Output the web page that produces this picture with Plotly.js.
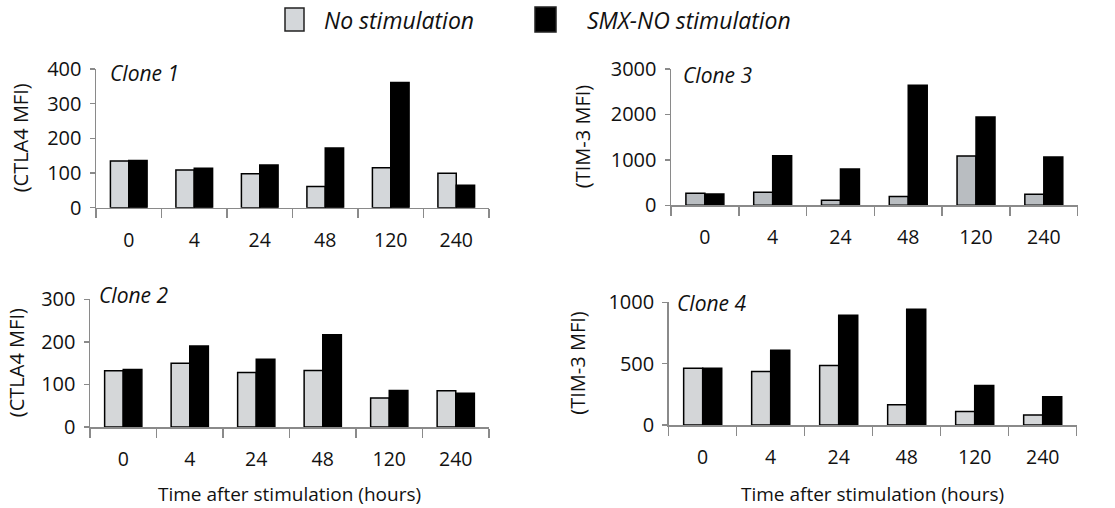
<!DOCTYPE html>
<html><head><meta charset="utf-8">
<script src="https://cdn.plot.ly/plotly-3.0.1.min.js"></script>
<style>html,body{margin:0;padding:0;background:#fff}</style>
</head><body><div id="chart" style="width:1115px;height:508px"></div>
<script>
var times = ["0","4","24","48","120","240"];
var seriesNames = ["No stimulation","SMX-NO stimulation"];
var clone1None = [135,109,98,61,115,99];
var clone1SMX  = [136,114,123,172,361,65];
var clone3None = [264,286,110,191,1086,242];
var clone3SMX  = [249,1093,800,2641,1944,1064];
var clone2None = [132,150,128,133,68,85];
var clone2SMX  = [135,190,159,217,86,79];
var clone4None = [462,437,484,166,111,82];
var clone4SMX  = [462,609,894,943,321,231];
var panelTitles = ["Clone 1","Clone 3","Clone 2","Clone 4"];
var yTitles = ["(CTLA4 MFI)","(TIM-3 MFI)","(CTLA4 MFI)","(TIM-3 MFI)"];
var xTitle = "Time after stimulation (hours)";

var FONT = "Open Sans, sans-serif";
var W = 1115, H = 508;
var grayCols = ["#d4d7da","#b9bdc1","#d5d7d9","#d4d6d8"];
var panels = [
  {none:clone1None, smx:clone1SMX, xd:[96/W,489/W], yd:[1-207.7/H,1-69/H], range:[0,400], dtick:100},
  {none:clone3None, smx:clone3SMX, xd:[671/W,1077.7/W], yd:[1-205.3/H,1-69/H], range:[0,3000], dtick:1000},
  {none:clone2None, smx:clone2SMX, xd:[90/W,489/W], yd:[1-427/H,1-299.3/H], range:[0,300], dtick:100},
  {none:clone4None, smx:clone4SMX, xd:[668.7/W,1076.7/W], yd:[1-425/H,1-302.3/H], range:[0,1000], dtick:500}
];
var yTitleX = [20,582,16,578];
var cloneLabelPos = [[108,73],[681,75],[97,295],[675,303]];
var data = [], layout = {
  width:W, height:H, margin:{l:0,r:0,t:0,b:0},
  paper_bgcolor:"#fff", plot_bgcolor:"#fff",
  barmode:"group", bargap:0.44, bargroupgap:0,
  showlegend:false,
  annotations:[], shapes:[]
};
// legend drawn as boxes + labels
var legendItems = [
  {box:[285,304,8,31], fill:grayCols[0], textX:322},
  {box:[535,556,7,32], fill:"#000", textX:585}
];
legendItems.forEach(function(it,k){
  layout.shapes.push({type:"rect", xref:"paper", yref:"paper",
    x0:it.box[0]/W, x1:it.box[1]/W, y0:1-it.box[3]/H, y1:1-it.box[2]/H,
    fillcolor:it.fill, line:{color:"#222", width:1.5}});
  layout.annotations.push({text:seriesNames[k], xref:"paper", yref:"paper",
    x:it.textX/W, y:1-20/H, xanchor:"left", yanchor:"middle", showarrow:false,
    font:{family:FONT, size:23, color:"#111", style:"italic"}});
});
panels.forEach(function(p,i){
  var xa = i===0 ? "x" : "x"+(i+1), ya = i===0 ? "y" : "y"+(i+1);
  data.push({type:"bar", x:times, y:p.none, name:seriesNames[0], xaxis:xa, yaxis:ya,
    marker:{color:grayCols[i], line:{color:"#000", width:1.5}}});
  data.push({type:"bar", x:times, y:p.smx, name:seriesNames[1], xaxis:xa, yaxis:ya,
    marker:{color:"#000", line:{color:"#000", width:1.5}}});
  var xk = i===0 ? "xaxis" : "xaxis"+(i+1), yk = i===0 ? "yaxis" : "yaxis"+(i+1);
  layout[xk] = {domain:p.xd, anchor:ya, type:"category", range:[-0.5,5.5],
    showline:true, linecolor:"#8a8a8a", linewidth:1.5, ticks:"outside", tickson:"boundaries",
    ticklen:9, tickcolor:"#8a8a8a", tickwidth:1.5, showgrid:false, zeroline:false,
    ticklabelstandoff:14, tickfont:{family:FONT, size:19.5, color:"#111"}, fixedrange:true};
  layout[yk] = {domain:p.yd, anchor:xa, range:p.range, dtick:p.dtick,
    showline:true, linecolor:"#8a8a8a", linewidth:1.5, ticks:"outside", ticklen:5,
    tickcolor:"#8a8a8a", tickwidth:1.5, showgrid:false, zeroline:false, ticklabelstandoff:4,
    tickfont:{family:FONT, size:20, color:"#111"}, fixedrange:true};
  layout.annotations.push({text:panelTitles[i], xref:"paper", yref:"paper",
    x:cloneLabelPos[i][0]/W, y:1-cloneLabelPos[i][1]/H, xanchor:"left", yanchor:"middle", showarrow:false,
    font:{family:FONT, size:21, color:"#111", style:"italic"}});
  layout.annotations.push({text:yTitles[i], xref:"paper", yref:"paper", textangle:-90,
    x:yTitleX[i]/W, y:(p.yd[0]+p.yd[1])/2, xanchor:"center", yanchor:"middle", showarrow:false,
    font:{family:FONT, size:20, color:"#111"}});
  if(i>=2){
    layout.annotations.push({text:xTitle, xref:"paper", yref:"paper",
      x:(p.xd[0]+p.xd[1])/2, y:1-494/H, xanchor:"center", yanchor:"middle", showarrow:false,
      font:{family:FONT, size:19, color:"#111"}});
  }
});
Plotly.newPlot("chart", data, layout, {displayModeBar:false, staticPlot:true});
</script></body></html>
